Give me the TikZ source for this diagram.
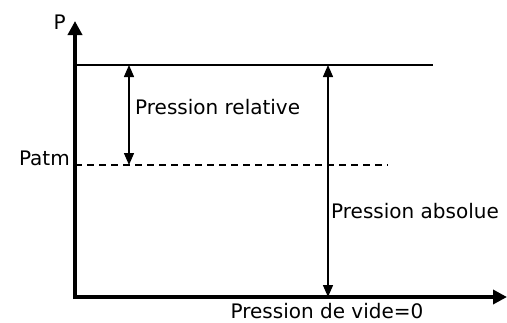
\documentclass[tikz,border=0pt]{standalone}
\usepackage{fontspec}
\setmainfont{DejaVu Sans}
\usetikzlibrary{arrows.meta,calc}
\tikzstyle{axis}=[draw, line width=4pt, -{Triangle[length=14pt,width=14pt]}]
\tikzstyle{arrow}=[draw, line width=1.4pt, {Triangle[length=12pt,width=10pt]}-{Triangle[length=12pt,width=10pt]}]
\tikzstyle{level}=[draw, line width=1.5pt]
\tikzstyle{label}=[font=\fontsize{20}{22}\selectfont, inner sep=0pt]

\begin{document}
\begin{tikzpicture}[x=1pt,y=-1pt]
\useasboundingbox (0,0) rectangle (507,322);

\coordinate (origin) at (75,297);
\coordinate (ytop) at (75,21);
\coordinate (xend) at (507,297);
\coordinate (atmleft) at (75,165);
\coordinate (atmright) at (388,165);
\coordinate (topleft) at (75,65);
\coordinate (topright) at (433,65);
\coordinate (reltop) at (129,65);
\coordinate (relbot) at (129,165);
\coordinate (abstop) at (328,65);
\coordinate (absbot) at (328,297);

\node (p) [label, anchor=east] at (66,22) {P};
\node (patm) [label, anchor=east] at (70,158) {Patm};
\node (relative) [label, anchor=west] at (135,107) {Pression relative};
\node (absolue) [label, anchor=west] at (331,211) {Pression absolue};
\node (vide) [label] at (327,311) {Pression de vide=0};

\draw [level] (topleft) -- (topright);
\draw [level, dashed, dash pattern=on 7pt off 5pt] (atmleft) -- (atmright);
\draw [arrow] (reltop) -- (relbot);
\draw [arrow] (abstop) -- (absbot);
\draw [axis] ($(origin)+(0,2)$) -- (ytop);
\draw [axis] ($(origin)+(-2,0)$) -- (xend);

\end{tikzpicture}
\end{document}
